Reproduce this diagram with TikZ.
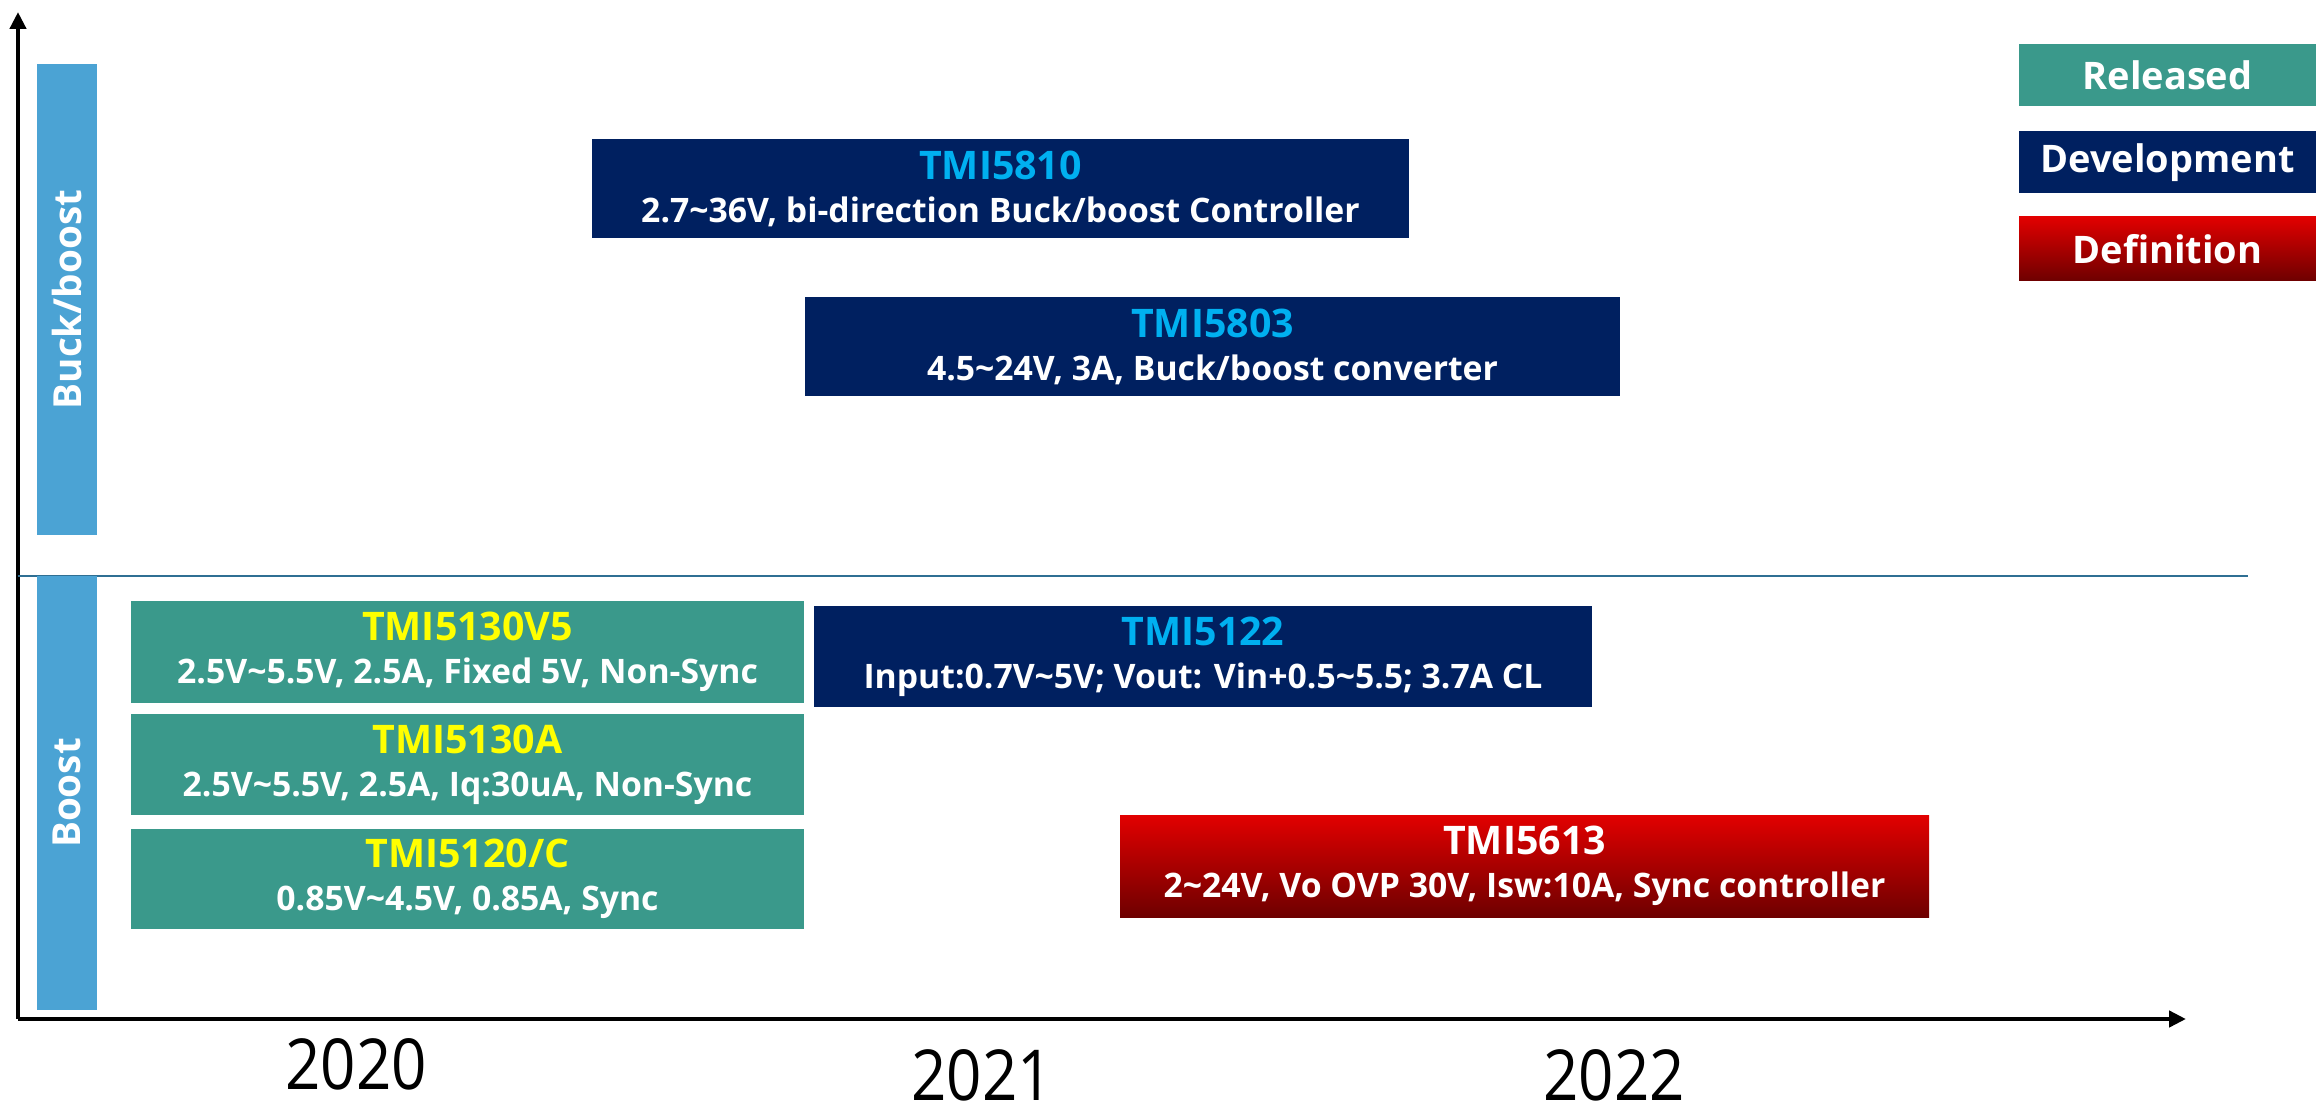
\documentclass[tikz,border=0pt]{standalone}
\usepackage{fontspec}
\setmainfont{Open Sans}
\newfontfamily\yearfont[FakeStretch=0.88]{Open Sans}
\usetikzlibrary{arrows.meta, positioning}

\definecolor{relgreen}{HTML}{3A998B}
\definecolor{devblue}{HTML}{002060}
\definecolor{ttlblue}{HTML}{00B0F0}
\definecolor{ttlyellow}{HTML}{FFFF00}
\definecolor{catblue}{HTML}{4BA3D4}
\definecolor{sepline}{HTML}{2F6F93}
\definecolor{defred}{HTML}{E20000}
\definecolor{defdark}{HTML}{6E0000}

\newcommand{\chiptitle}[2]{{\fontsize{11.2}{13}\selectfont\color{#1}#2}}

\tikzset{
    chip/.style={minimum height=1cm, align=center, text=white, inner sep=0pt,
        font=\bfseries\fontsize{9.6}{12.2}\selectfont},
    released/.style={chip, fill=relgreen},
    devel/.style={chip, fill=devblue},
    defin/.style={chip, top color=defred, bottom color=defdark},
    legendbox/.style={minimum width=2.97cm, minimum height=0.62cm, inner sep=0pt,
        text=white, font=\bfseries\fontsize{10.8}{13}\selectfont},
    catbar/.style={fill=catblue, minimum width=0.6cm, inner sep=0pt},
    cattext/.style={rotate=90, text=white, font=\bfseries\fontsize{11}{13}\selectfont},
    axis/.style={line width=1.3pt, -{Triangle[length=0.17cm, width=0.16cm]}},
    year/.style={inner sep=0pt, font=\yearfont\fontsize{20}{22}\selectfont},
}

\begin{document}
\begin{tikzpicture}
    \useasboundingbox (0,0) rectangle (23.16,11.05);

    % axes
    \coordinate (origin) at (0.18,0.86);
    \coordinate (ytop) at (0.18,10.93);
    \coordinate (xend) at (21.86,0.86);
    \draw[axis] (origin) -- (ytop);
    \draw[axis] (origin) -- (xend);

    % separator
    \coordinate (sepL) at (0.18,5.29);
    \coordinate (sepR) at (22.48,5.29);
    \draw[sepline, line width=0.6pt] (sepL) -- (sepR);

    % categories
    \node[catbar, minimum height=4.71cm] (catbb) at (0.67,8.055) {};
    \node[cattext] (catbbtxt) at (catbb) {Buck/boost};
    \node[catbar, minimum height=4.34cm] (catb) at (0.67,3.12) {};
    \node[cattext] (catbtxt) at (catb) {Boost};

    % buck/boost
    \node[devel, minimum width=8.17cm, minimum height=0.99cm] (t5810) at (10.005,9.165)
        {\chiptitle{ttlblue}{TMI5810}\\2.7\textasciitilde36V, bi-direction Buck/boost Controller};
    \node[devel, minimum width=8.15cm, minimum height=0.99cm] (t5803) at (12.125,7.585)
        {\chiptitle{ttlblue}{TMI5803}\\4.5\textasciitilde24V, 3A, Buck/boost converter};

    % boost
    \node[released, minimum width=6.73cm, minimum height=1.02cm] (t5130v5) at (4.675,4.53)
        {\chiptitle{ttlyellow}{TMI5130V5}\\2.5V\textasciitilde5.5V, 2.5A, Fixed 5V, Non-Sync};
    \node[released, minimum width=6.73cm, minimum height=1.01cm, below=0.1cm of t5130v5] (t5130a)
        {\chiptitle{ttlyellow}{TMI5130A}\\2.5V\textasciitilde5.5V, 2.5A, Iq:30uA, Non-Sync};
    \node[released, minimum width=6.73cm, minimum height=1.0cm, below=0.12cm of t5130a] (t5120)
        {\chiptitle{ttlyellow}{TMI5120/C}\\0.85V\textasciitilde4.5V, 0.85A, Sync};
    \node[devel, minimum width=7.78cm, minimum height=1.01cm] (t5122) at (12.03,4.485)
        {\chiptitle{ttlblue}{TMI5122}\\Input:0.7V\textasciitilde5V; Vout: Vin+0.5\textasciitilde5.5; 3.7A CL};
    \node[defin, minimum width=8.09cm, minimum height=1.02cm] (t5613) at (15.245,2.39)
        {\chiptitle{white}{TMI5613}\\2\textasciitilde24V, Vo OVP 30V, Isw:10A, Sync controller};

    % legend
    \node[legendbox, fill=relgreen] (lgrel) at (21.675,10.30) {Released};
    \node[legendbox, fill=devblue, below=0.24cm of lgrel] (lgdev) {Development};
    \node[legendbox, top color=defred, bottom color=defdark, minimum height=0.64cm,
        below=0.22cm of lgdev] (lgdef) {Definition};

    % years
    \foreach \yr/\xx/\yy in {2020/3.56/0.41, 2021/9.82/0.30, 2022/16.14/0.30} {
        \node[year] (y\yr) at (\xx,\yy) {\yr};
    }
\end{tikzpicture}
\end{document}
